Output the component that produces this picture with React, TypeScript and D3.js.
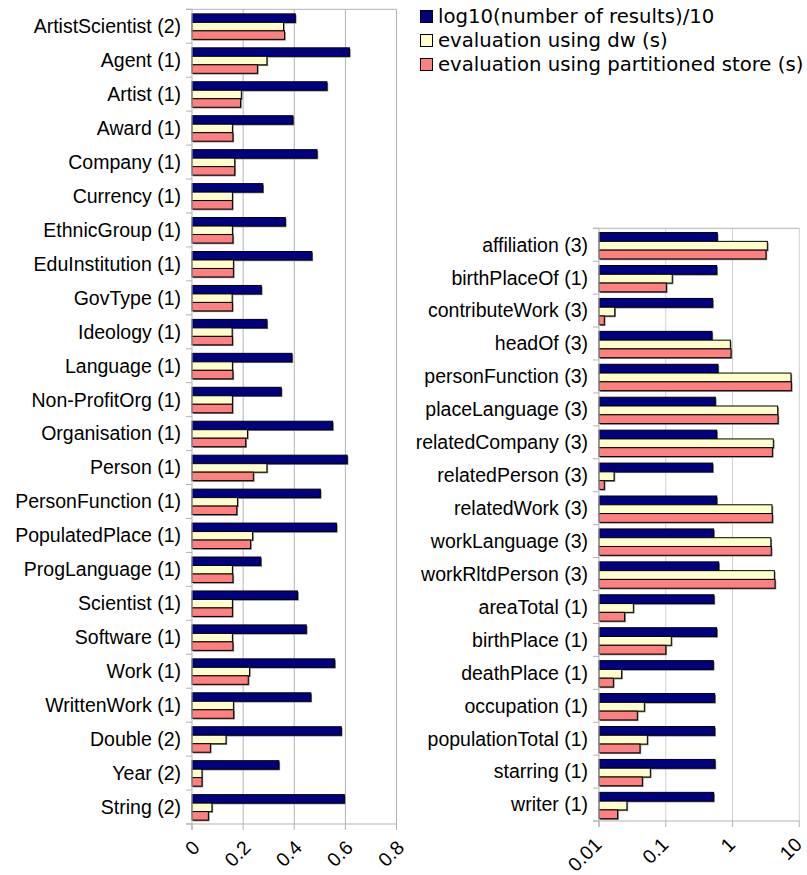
import React from "react";
import * as d3 from "d3";

// Series shared by both panels
const seriesNames = [
  "log10(number of results)/10",
  "evaluation using dw (s)",
  "evaluation using partitioned store (s)",
];
const seriesColors = ["#000080", "#ffffcc", "#ff8080"];

// Class queries (linear axis)
const classCategories = [
  "ArtistScientist (2)", "Agent (1)", "Artist (1)", "Award (1)", "Company (1)",
  "Currency (1)", "EthnicGroup (1)", "EduInstitution (1)", "GovType (1)", "Ideology (1)",
  "Language (1)", "Non-ProfitOrg (1)", "Organisation (1)", "Person (1)", "PersonFunction (1)",
  "PopulatedPlace (1)", "ProgLanguage (1)", "Scientist (1)", "Software (1)", "Work (1)",
  "WrittenWork (1)", "Double (2)", "Year (2)", "String (2)",
];
const classResults = [
  0.404, 0.616, 0.528, 0.395, 0.489, 0.277, 0.365, 0.469, 0.271, 0.293, 0.391, 0.349,
  0.55, 0.607, 0.502, 0.565, 0.269, 0.413, 0.447, 0.558, 0.465, 0.584, 0.34, 0.596,
];
const classDw = [
  0.358, 0.293, 0.193, 0.158, 0.167, 0.158, 0.158, 0.162, 0.157, 0.157, 0.158, 0.158,
  0.217, 0.293, 0.178, 0.237, 0.158, 0.158, 0.158, 0.225, 0.162, 0.133, 0.039, 0.078,
];
const classPartitioned = [
  0.362, 0.256, 0.19, 0.16, 0.167, 0.158, 0.16, 0.162, 0.158, 0.158, 0.16, 0.158,
  0.21, 0.24, 0.175, 0.229, 0.16, 0.158, 0.16, 0.22, 0.163, 0.072, 0.039, 0.064,
];
const classTicks = [0, 0.2, 0.4, 0.6, 0.8];

// Property queries (log axis)
const propCategories = [
  "affiliation (3)", "birthPlaceOf (1)", "contributeWork (3)", "headOf (3)", "personFunction (3)",
  "placeLanguage (3)", "relatedCompany (3)", "relatedPerson (3)", "relatedWork (3)", "workLanguage (3)",
  "workRltdPerson (3)", "areaTotal (1)", "birthPlace (1)", "deathPlace (1)", "occupation (1)",
  "populationTotal (1)", "starring (1)", "writer (1)",
];
const propResults = [
  0.59, 0.579, 0.503, 0.492, 0.605, 0.552, 0.579, 0.503, 0.579, 0.521,
  0.62, 0.527, 0.579, 0.515, 0.54, 0.54, 0.546, 0.521,
];
const propDw = [
  3.32, 0.125, 0.0172, 0.927, 7.5, 4.74, 4.08, 0.0168, 3.9, 3.75,
  4.23, 0.0327, 0.121, 0.0218, 0.0478, 0.053, 0.0587, 0.0262,
];
const propPartitioned = [
  3.17, 0.102, 0.012, 0.949, 7.6, 4.8, 3.95, 0.012, 3.95, 3.8,
  4.33, 0.0242, 0.1, 0.0164, 0.0375, 0.0411, 0.0446, 0.019,
];
const propTicks = [0.01, 0.1, 1, 10];

const labelFont = "'Liberation Sans', Arial, Helvetica, sans-serif";
const legendFont = "'DejaVu Sans', Verdana, sans-serif";

type PanelProps = {
  categories: string[];
  values: number[][];
  x: (v: number) => number;
  xRange: [number, number];
  ticks: number[];
  top: number;
  bottom: number;
  inner: [number, number];
  gridColor: string;
  labelShift: [number, number];
};

function BarPanel({ categories, values, x, xRange, ticks, top, bottom, inner, gridColor, labelShift }: PanelProps) {
  const y = d3.scaleBand<string>().domain(categories).range([top, bottom]).padding(0);
  const bw = y.bandwidth();
  const sub = d3
    .scaleBand<number>()
    .domain([0, 1, 2])
    .range([bw * inner[0], bw * inner[1]])
    .padding(0);
  const [xa, xb] = xRange;
  const boundaries = categories.map((c) => y(c) as number).concat([bottom]);

  return (
    <g>
      {/* vertical gridlines */}
      {ticks.slice(1).map((t) => (
        <line key={"g" + t} x1={x(t)} x2={x(t)} y1={top} y2={bottom} stroke={gridColor} strokeWidth={1} />
      ))}
      {/* top border */}
      <line x1={xa - 6} x2={xb} y1={top} y2={top} stroke="#b3b3b3" strokeWidth={1} />
      {/* bars with drop shadow */}
      {categories.map((c, i) => (
        <g key={c}>
          {values.map((series, s) => {
            const by = (y(c) as number) + (sub(s) as number);
            const bh = sub.bandwidth();
            const w = x(series[i]) - xa;
            return (
              <g key={s}>
                <rect x={xa + 1.2} y={by + 1.2} width={w} height={bh} fill="#777" />
                <rect x={xa} y={by} width={w} height={bh} fill={seriesColors[s]} stroke="#000" strokeWidth={1} />
              </g>
            );
          })}
        </g>
      ))}
      {/* left axis */}
      <line x1={xa} x2={xa} y1={top} y2={bottom + 6} stroke="#b3b3b3" strokeWidth={1} />
      {boundaries.map((b, i) => (
        <line key={"t" + i} x1={xa - 6} x2={xa} y1={b} y2={b} stroke="#b3b3b3" strokeWidth={1} />
      ))}
      {/* bottom axis */}
      <line x1={xa - 6} x2={xb} y1={bottom} y2={bottom} stroke="#b3b3b3" strokeWidth={1} />
      {ticks.map((t) => (
        <line key={"b" + t} x1={x(t)} x2={x(t)} y1={bottom} y2={bottom + 6} stroke="#b3b3b3" strokeWidth={1} />
      ))}
      {/* category labels */}
      {categories.map((c) => (
        <text
          key={"l" + c}
          x={xa - 11}
          y={(y(c) as number) + bw / 2}
          dy="0.35em"
          textAnchor="end"
          fontFamily={labelFont}
          fontSize={19.5}
          fill="#000"
        >
          {c}
        </text>
      ))}
      {/* value labels, rotated */}
      {ticks.map((t) => (
        <text
          key={"v" + t}
          transform={`translate(${x(t) + labelShift[0]},${bottom + labelShift[1]}) rotate(-45)`}
          dy="0.35em"
          textAnchor="end"
          fontFamily={labelFont}
          fontSize={19.5}
          fill="#000"
        >
          {String(t)}
        </text>
      ))}
    </g>
  );
}

export default function App() {
  const classX = d3.scaleLinear().domain([0, 0.8]).range([192, 396.5]);
  const propX = d3.scaleLog().domain([0.01, 10]).range([599, 799.3]);

  return (
    <svg
      width={807}
      height={875}
      style={{ position: "absolute", left: 0, top: 0, background: "#fff" }}
    >
      <rect width={807} height={875} fill="#fff" />
      <BarPanel
        categories={classCategories}
        values={[classResults, classDw, classPartitioned]}
        x={classX}
        xRange={[192, 396.5]}
        ticks={classTicks}
        top={9.3}
        bottom={824}
        inner={[0.135, 0.885]}
        gridColor="#b3b3b3"
        labelShift={[4, 20]}
      />
      <BarPanel
        categories={propCategories}
        values={[propResults, propDw, propPartitioned]}
        x={propX}
        xRange={[599, 799.3]}
        ticks={propTicks}
        top={228.3}
        bottom={821}
        inner={[0.13, 0.93]}
        gridColor="#cfcfcf"
        labelShift={[-1, 20]}
      />
      {/* legend */}
      {seriesNames.map((name, i) => (
        <g key={name} transform={`translate(420,${10 + i * 24})`}>
          <rect x={0.5} y={0.5} width={12} height={12} fill={seriesColors[i]} stroke="#000" strokeWidth={1} />
          <text x={18} y={12.5} fontFamily={legendFont} fontSize={19.7} fill="#000">
            {name}
          </text>
        </g>
      ))}
    </svg>
  );
}
